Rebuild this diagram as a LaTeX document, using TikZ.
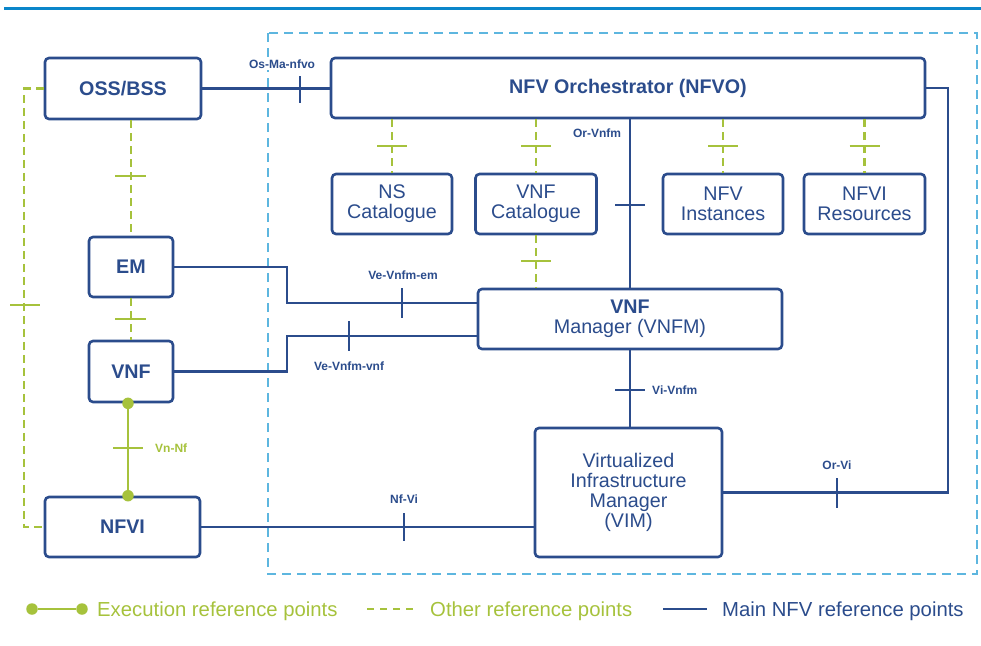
\documentclass[tikz,border=0pt]{standalone}
\usepackage{fontspec}
\setmainfont{Liberation Sans}
\usetikzlibrary{calc}
\definecolor{navy}{HTML}{2B4C8C}
\definecolor{olive}{HTML}{A6C23C}
\definecolor{skyline}{HTML}{5DB6DF}
\definecolor{topbar}{HTML}{0A86CA}

\begin{document}
\begin{tikzpicture}[x=1pt,y=-1pt,
  box/.style={draw=navy, line width=2.6pt, rounded corners=4pt, fill=white, text=navy,
    inner sep=0pt, align=center, font=\fontsize{19.7}{20}\selectfont},
  boldbox/.style={box, font=\fontsize{19.7}{20}\selectfont\bfseries},
  main/.style={draw=navy, line width=2.6pt},
  other/.style={draw=olive, line width=2.6pt, dash pattern=on 8pt off 5pt},
  exec/.style={draw=olive, line width=2.6pt},
  lbl/.style={text=navy, font=\fontsize{12}{13}\selectfont\bfseries, inner sep=0pt},
  legend/.style={font=\fontsize{20.3}{22}\selectfont, inner sep=0pt, anchor=base west},
  dot/.style={circle, fill=olive, minimum size=11.5pt, inner sep=0pt},
]
\useasboundingbox (0,0) rectangle (981,645);

% header rule and NFV-MANO domain frame
\draw[topbar, line width=3pt] (4,8) -- (981,8);
\draw[skyline, line width=2.4pt, dash pattern=on 9pt off 6pt] (268,33) rectangle (977,574);

% functional blocks
\node[boldbox, minimum width=156pt, minimum height=61pt] (oss) at (123,88.5) {OSS/BSS};
\node[boldbox, minimum width=594pt, minimum height=60pt] (nfvo) at (628,88) {NFV Orchestrator (NFVO)};
\node[box, minimum width=120pt, minimum height=60pt] (nscat) at (392,204) {NS\\Catalogue};
\node[box, minimum width=121pt, minimum height=60pt] (vnfcat) at (536,204) {VNF\\Catalogue};
\node[box, minimum width=120pt, minimum height=60pt] (nfvinst) at (723,204) {NFV\\Instances};
\node[box, minimum width=121pt, minimum height=60pt] (nfvires) at (864.5,204) {NFVI\\Resources};
\node[boldbox, minimum width=84pt, minimum height=60pt] (em) at (131,267) {EM};
\node[boldbox, minimum width=84pt, minimum height=61pt] (vnf) at (131,371.5) {VNF};
\node[boldbox, minimum width=155pt, minimum height=60pt] (nfvi) at (122.5,527) {NFVI};
\node[box, minimum width=304pt, minimum height=60pt] (vnfm) at (630,319) {{\bfseries VNF}\\Manager (VNFM)};
\node[box, minimum width=187pt, minimum height=129pt] (vim) at (628.5,492.5) {Virtualized\\Infrastructure\\Manager\\(VIM)};

% Os-Ma-nfvo
\draw[main] (oss.east) -- (oss.east -| nfvo.west);
\draw[main] (300,76) -- (300,103);
\node[lbl, fill=white, inner sep=2pt] (osma) at (282,64) {Os-Ma-nfvo};

% Or-Vi
\coordinate (orviturn) at (948,88);
\draw[main] (nfvo.east) -- (orviturn) |- (vim.east);
\draw[main] (837,478) -- (837,508);
\node[lbl] (orvi) at (837,465) {Or-Vi};

% Or-Vnfm
\draw[main] (vnfm.north |- nfvo.south) -- (vnfm.north);
\draw[main] (615,205) -- (645,205);
\node[lbl] (orvnfm) at (597,133) {Or-Vnfm};

% Vi-Vnfm
\draw[main] (vnfm.south) -- (vnfm.south |- vim.north);
\draw[main] (615,390) -- (645,390);
\node[lbl, anchor=west] (vivnfm) at (652,390) {Vi-Vnfm};

% NFVO repositories
\draw[other] (nscat.north |- nfvo.south) -- (nscat.north);
\draw[other] (vnfcat.north |- nfvo.south) -- (vnfcat.north);
\draw[other] (nfvinst.north |- nfvo.south) -- (nfvinst.north);
\draw[other] (nfvires.north |- nfvo.south) -- (nfvires.north);
\draw[exec] (377,146) -- (407,146);
\draw[exec] (521,146) -- (551,146);
\draw[exec] (708,146) -- (738,146);
\draw[exec] (849.5,146) -- (879.5,146);

% VNF Catalogue to VNFM
\draw[other] (vnfcat.south) -- (vnfcat.south |- vnfm.north);
\draw[exec] (521,261) -- (551,261);

% Ve-Vnfm-em and Ve-Vnfm-vnf
\coordinate (vnfmem) at ($(vnfm.west)+(0,-16)$);
\coordinate (vnfmvnf) at ($(vnfm.west)+(0,17)$);
\draw[main] (em.east) -| (287,303) -- (vnfmem);
\draw[main] (402,288) -- (402,318);
\node[lbl] (vevnfmem) at (403,275) {Ve-Vnfm-em};
\draw[main] (vnf.east) -| (287,336) -- (vnfmvnf);
\draw[main] (349,321) -- (349,351);
\node[lbl] (vevnfmvnf) at (349,366) {Ve-Vnfm-vnf};

% Vn-Nf (execution reference point)
\coordinate (vnfexec) at ($(vnf.south)+(-3,0)$);
\coordinate (nfviexec) at (vnfexec |- nfvi.north);
\draw[exec] (vnfexec) -- (nfviexec);
\node[dot] at (vnfexec) {};
\node[dot] at (nfviexec) {};
\draw[exec] (113,448) -- (143,448);
\node[lbl, text=olive, anchor=west] (vnnf) at (155,448) {Vn-Nf};

% Nf-Vi
\draw[main] (nfvi.east) -- (nfvi.east -| vim.west);
\draw[main] (404,513) -- (404,541);
\node[lbl] (nfvilbl) at (404,499) {Nf-Vi};

% OSS/BSS to NFVI, OSS/BSS to EM, EM to VNF
\draw[other] (oss.west) -| (24,300) |- (nfvi.west);
\draw[exec] (10,305) -- (40,305);
\draw[other] (em.north |- oss.south) -- (em.north);
\draw[exec] (115,176) -- (146,176);
\draw[other] (em.south) -- (vnf.north);
\draw[exec] (115,319) -- (146,319);

% legend
\node[dot] (lgA) at (32,609) {};
\node[dot] (lgB) at (82,609) {};
\draw[exec] (lgA) -- (lgB);
\node[legend, text=olive] (lgexec) at (97,616) {Execution reference points};
\coordinate (lgoA) at (367,609);
\coordinate (lgoB) at (414,609);
\draw[olive, line width=2.6pt, dash pattern=on 7pt off 6pt] (lgoA) -- (lgoB);
\node[legend, text=olive] (lgother) at (430,616) {Other reference points};
\coordinate (lgmA) at (663,609);
\coordinate (lgmB) at (707,609);
\draw[main] (lgmA) -- (lgmB);
\node[legend, text=navy] (lgmain) at (722,616) {Main NFV reference points};
\end{tikzpicture}
\end{document}
